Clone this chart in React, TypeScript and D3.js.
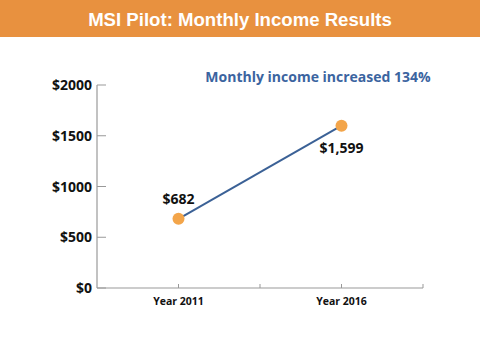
import { useEffect, useRef } from "react";
import * as d3 from "d3";

const title = "MSI Pilot: Monthly Income Results";
const note = "Monthly income increased 134%";
const categories = ["", "Year 2011", "", "Year 2016", ""];
const incomeYears = ["Year 2011", "Year 2016"];
const incomeValues = [682, 1599];
const valueLabels = ["$682", "$1,599"];
const yTicks = [0, 500, 1000, 1500, 2000];

const W = 480;
const H = 360;

const App = () => {
  const svgRef = useRef<SVGSVGElement>(null);

  useEffect(() => {
    const svg = d3.select(svgRef.current);
    svg.selectAll("*").remove();

    const x = d3.scaleLinear().domain([0, categories.length - 1]).range([97, 423]);
    const y = d3.scaleLinear().domain([0, 2000]).range([288, 85]);
    const xi = (name: string) => x(categories.indexOf(name));

    // header band
    svg.append("rect").attr("x", 0).attr("y", 0).attr("width", W).attr("height", 37).attr("fill", "#E8913F");
    svg
      .append("text")
      .attr("x", W / 2)
      .attr("y", 26)
      .attr("text-anchor", "middle")
      .attr("fill", "#fff")
      .style("font", "bold 18.6px 'Liberation Sans', Arial, sans-serif")
      .text(title);

    const font = "'Open Sans', sans-serif";

    // y axis
    const yAxis = svg.append("g").attr("transform", `translate(${x(0)},0)`);
    yAxis.append("line").attr("y1", y(0)).attr("y2", y(2000)).attr("stroke", "#999").attr("stroke-width", 1.2);
    yTicks.forEach((t) => {
      yAxis.append("line").attr("x1", 0).attr("x2", 9).attr("y1", y(t)).attr("y2", y(t)).attr("stroke", "#999");
      yAxis
        .append("text")
        .attr("x", -5)
        .attr("y", y(t) + 5)
        .attr("text-anchor", "end")
        .style("font-family", font)
        .style("font-weight", "bold")
        .style("font-size", "14px")
        .attr("fill", "#111")
        .text(`$${t}`);
    });

    // x axis
    const xAxis = svg.append("g").attr("transform", `translate(0,${y(0)})`);
    xAxis.append("line").attr("x1", x(0)).attr("x2", x(categories.length - 1)).attr("stroke", "#999").attr("stroke-width", 1.2);
    categories.forEach((c, i) => {
      if (i === 0) return;
      xAxis.append("line").attr("x1", x(i)).attr("x2", x(i)).attr("y1", 0).attr("y2", -4).attr("stroke", "#999");
      if (c)
        xAxis
          .append("text")
          .attr("x", x(i))
          .attr("y", 17)
          .attr("text-anchor", "middle")
          .style("font-family", font)
          .style("font-weight", "bold")
          .style("font-size", "10.5px")
          .attr("fill", "#111")
          .text(c);
    });

    // line + dots
    const pts = incomeYears.map((c, i) => [xi(c), y(incomeValues[i])] as [number, number]);
    svg
      .append("path")
      .attr("d", d3.line()(pts))
      .attr("fill", "none")
      .attr("stroke", "#3B6196")
      .attr("stroke-width", 2);
    svg
      .selectAll("circle.pt")
      .data(pts)
      .join("circle")
      .attr("class", "pt")
      .attr("cx", (d) => d[0])
      .attr("cy", (d) => d[1])
      .attr("r", 6)
      .attr("fill", "#F3A54A");

    const offsets = [-15, 27];
    svg
      .selectAll("text.val")
      .data(pts)
      .join("text")
      .attr("class", "val")
      .attr("x", (d) => d[0])
      .attr("y", (d, i) => d[1] + offsets[i])
      .attr("text-anchor", "middle")
      .style("font-family", font)
      .style("font-weight", "bold")
      .style("font-size", "14px")
      .attr("fill", "#111")
      .text((d, i) => valueLabels[i]);

    svg
      .append("text")
      .attr("x", 318)
      .attr("y", 82)
      .attr("text-anchor", "middle")
      .style("font-family", font)
      .style("font-weight", "bold")
      .style("font-size", "14px")
      .attr("fill", "#3B64A0")
      .text(note);
  }, []);

  return (
    <svg
      ref={svgRef}
      width={W}
      height={H}
      style={{ position: "fixed", left: 0, top: 0, background: "#fff" }}
    />
  );
};

export default App;
